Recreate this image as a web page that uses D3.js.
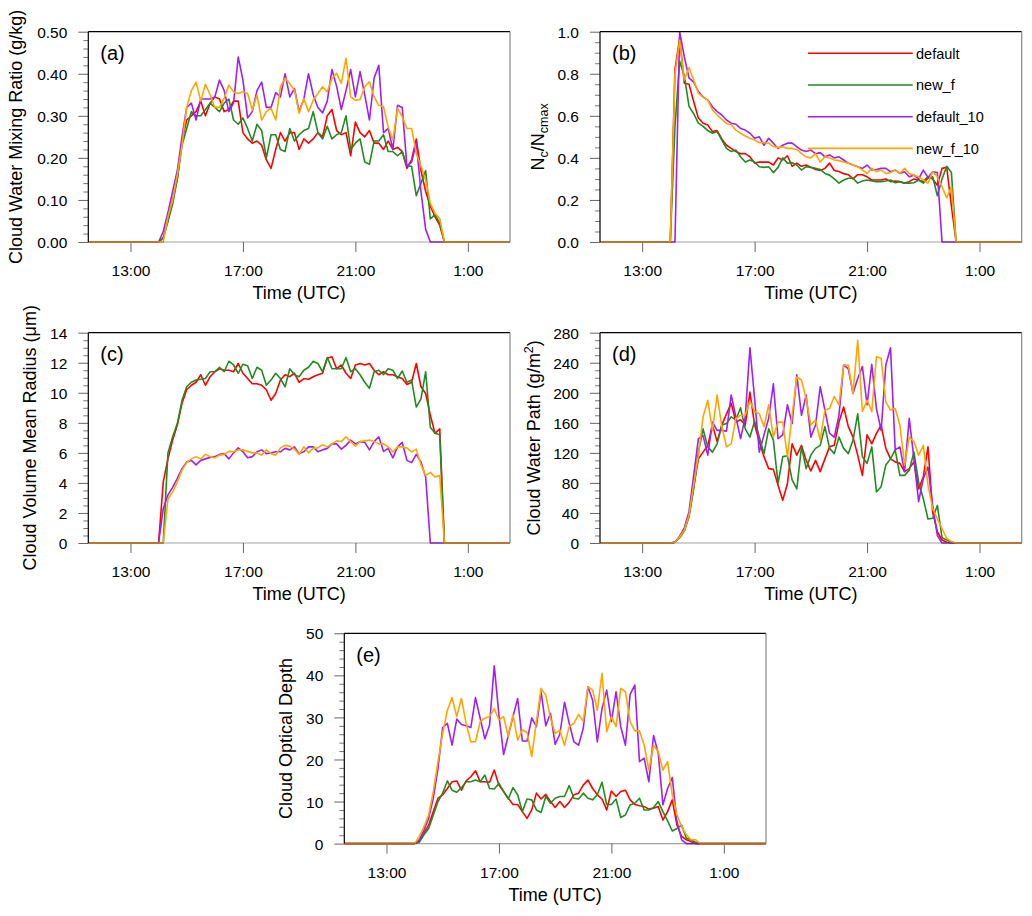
<!DOCTYPE html>
<html>
<head>
<meta charset="utf-8">
<script src="https://d3js.org/d3.v7.min.js"></script>
<style>
body { margin: 0; background: #fff; }
svg text { font-family: "Liberation Sans", Arial, Helvetica, sans-serif; fill: #000; }
</style>
</head>
<body>
<svg id="chart" width="1032" height="916"></svg>
<script>
// 10-minute samples, 11:30 UTC .. 02:30 UTC next day (hours, 24 = midnight)
const startHour = 11.5;
const stepHours = 1 / 6;
const timeTicks = [13, 17, 21, 25];
const timeTickLabels = ["13:00", "17:00", "21:00", "1:00"];

const seriesNames = ["default", "new_f", "default_10", "new_f_10"];
const seriesColors = ["#ff0000", "#228b22", "#a020f0", "#ffa500"];

// (a) cloud water mixing ratio, g/kg
const qcDefault = [0,0,0,0,0,0,0,0,0,0,0,0,0,0,0,
  0,0.01,0.05,0.10,0.15,0.24,0.29,0.30,0.31,0.335,
  0.30,0.33,0.345,0.34,0.31,0.315,0.335,0.335,0.26,0.245,
  0.235,0.24,0.23,0.195,0.175,0.22,0.26,0.24,0.26,0.26,
  0.22,0.245,0.235,0.245,0.26,0.25,0.30,0.315,0.265,0.255,
  0.26,0.205,0.285,0.26,0.25,0.265,0.235,0.235,0.22,0.24,
  0.22,0.225,0.215,0.175,0.195,0.245,0.17,0.12,0.085,0.06,
  0.04,0,
  0,0,0,0,0,0,0,0,0,0,0,0,0,0];
const qcNewF = [0,0,0,0,0,0,0,0,0,0,0,0,0,0,0,
  0,0.01,0.05,0.09,0.15,0.23,0.27,0.31,0.30,0.30,
  0.315,0.33,0.32,0.31,0.33,0.34,0.29,0.28,0.295,0.27,
  0.24,0.28,0.265,0.20,0.255,0.255,0.22,0.215,0.27,0.24,
  0.255,0.265,0.27,0.31,0.26,0.245,0.275,0.245,0.255,0.26,
  0.30,0.22,0.235,0.245,0.19,0.185,0.24,0.24,0.255,0.215,
  0.215,0.205,0.215,0.18,0.18,0.11,0.14,0.17,0.055,0.065,
  0.045,0,
  0,0,0,0,0,0,0,0,0,0,0,0,0,0];
const qcDefault10 = [0,0,0,0,0,0,0,0,0,0,0,0,0,0,0,
  0,0.025,0.07,0.12,0.17,0.25,0.32,0.33,0.29,0.34,
  0.34,0.34,0.345,0.385,0.36,0.31,0.33,0.44,0.385,0.295,
  0.31,0.36,0.38,0.32,0.32,0.355,0.345,0.40,0.345,0.365,
  0.31,0.34,0.40,0.35,0.32,0.307,0.335,0.41,0.37,0.315,
  0.36,0.41,0.345,0.405,0.35,0.29,0.39,0.42,0.26,0.27,
  0.22,0.325,0.32,0.18,0.19,0.235,0.12,0.03,0,0,
  0,0,
  0,0,0,0,0,0,0,0,0,0,0,0,0,0];
const qcNewF10 = [0,0,0,0,0,0,0,0,0,0,0,0,0,0,0,
  0,0,0.06,0.10,0.16,0.23,0.32,0.36,0.38,0.335,
  0.375,0.35,0.32,0.32,0.342,0.373,0.357,0.353,0.357,0.353,
  0.314,0.349,0.29,0.31,0.318,0.29,0.369,0.389,0.377,0.361,
  0.306,0.341,0.31,0.337,0.353,0.369,0.357,0.389,0.401,0.377,
  0.437,0.345,0.337,0.339,0.369,0.381,0.345,0.325,0.322,0.274,
  0.242,0.318,0.298,0.27,0.27,0.211,0.18,0.147,0.092,0.068,
  0.056,0,
  0,0,0,0,0,0,0,0,0,0,0,0,0,0];

// (b) normalised droplet number Nc/Ncmax
const ncDefault = [0,0,0,0,0,0,0,0,0,0,0,0,0,0,0,
  0,0.82,0.97,0.755,0.75,0.667,0.59,0.565,0.556,0.525,
  0.53,0.49,0.46,0.445,0.43,0.42,0.42,0.405,0.375,0.38,
  0.38,0.38,0.366,0.40,0.39,0.41,0.36,0.375,0.36,0.366,
  0.355,0.345,0.34,0.35,0.375,0.34,0.335,0.325,0.32,0.30,
  0.32,0.32,0.31,0.295,0.295,0.295,0.30,0.287,0.29,0.287,
  0.28,0.287,0.30,0.295,0.287,0.31,0.30,0.27,0.35,0.355,
  0.17,0,
  0,0,0,0,0,0,0,0,0,0,0,0,0,0];
const ncNewF = [0,0,0,0,0,0,0,0,0,0,0,0,0,0,0,
  0,0.55,0.86,0.79,0.645,0.61,0.565,0.55,0.53,0.517,
  0.525,0.485,0.445,0.43,0.437,0.405,0.38,0.39,0.38,0.358,
  0.355,0.358,0.33,0.355,0.40,0.375,0.377,0.366,0.342,0.358,
  0.355,0.35,0.345,0.326,0.318,0.30,0.28,0.295,0.303,0.303,
  0.28,0.29,0.295,0.29,0.287,0.287,0.29,0.295,0.282,0.287,
  0.28,0.28,0.282,0.295,0.28,0.303,0.31,0.22,0.30,0.36,
  0.33,0,
  0,0,0,0,0,0,0,0,0,0,0,0,0,0];
const ncDefault10 = [0,0,0,0,0,0,0,0,0,0,0,0,0,0,0,
  0,0,1.0,0.88,0.78,0.76,0.715,0.69,0.675,0.643,
  0.62,0.604,0.58,0.565,0.56,0.54,0.532,0.517,0.493,0.50,
  0.46,0.493,0.47,0.445,0.46,0.47,0.47,0.453,0.437,0.43,
  0.437,0.42,0.425,0.405,0.414,0.40,0.405,0.39,0.374,0.366,
  0.358,0.35,0.366,0.342,0.345,0.35,0.35,0.334,0.342,0.326,
  0.334,0.31,0.318,0.30,0.342,0.307,0.334,0.33,0,0,
  0,0,
  0,0,0,0,0,0,0,0,0,0,0,0,0,0];
const ncNewF10 = [0,0,0,0,0,0,0,0,0,0,0,0,0,0,0,
  0,0.80,0.96,0.77,0.83,0.77,0.707,0.69,0.675,0.628,
  0.604,0.583,0.564,0.556,0.532,0.517,0.504,0.493,0.485,0.472,
  0.472,0.47,0.453,0.45,0.453,0.445,0.445,0.44,0.42,0.405,
  0.40,0.42,0.38,0.405,0.40,0.39,0.387,0.38,0.374,0.366,
  0.358,0.342,0.326,0.35,0.334,0.342,0.326,0.33,0.342,0.326,
  0.35,0.326,0.318,0.31,0.295,0.28,0.334,0.31,0.263,0.21,
  0.263,0,
  0,0,0,0,0,0,0,0,0,0,0,0,0,0];

// (c) cloud volume mean radius, um
const rvDefault = [0,0,0,0,0,0,0,0,0,0,0,0,0,0,0,
  0,4.07,5.6,6.85,7.85,9.3,10.2,10.5,10.7,11.2,
  10.5,11.07,11.4,11.6,11.5,11.5,11.4,11.95,11.3,10.95,
  10.6,10.6,10.5,10.2,9.5,9.95,10.85,11.2,11.07,11.3,
  10.7,10.95,10.9,11.07,11.2,11.3,12.3,12.4,11.6,11.85,
  11.3,10.95,11.85,11.95,11.85,11.95,11.5,11.2,11.4,11.2,
  11.2,11.07,10.95,10.55,10.7,11.95,10.4,9.95,8.5,7.3,
  7.6,0,
  0,0,0,0,0,0,0,0,0,0,0,0,0,0];
const rvNewF = [0,0,0,0,0,0,0,0,0,0,0,0,0,0,0,
  0,0,6.0,7.07,7.95,9.5,10.4,10.7,10.85,10.9,
  10.95,11.4,11.4,11.7,11.4,12.1,11.85,11.3,11.9,11.8,
  10.95,11.7,11.5,10.5,10.85,11.3,10.95,10.4,11.6,11.2,
  11.07,11.5,11.7,12.1,11.95,11.4,12.35,11.6,11.6,11.6,
  12.35,11.4,11.6,11.2,10.7,10.3,11.4,11.5,11.2,11.6,
  11.5,10.95,11.45,10.7,10.85,9.05,9.6,11.4,7.7,7.3,
  7.2,0,
  0,0,0,0,0,0,0,0,0,0,0,0,0,0];
const rvDefault10 = [0,0,0,0,0,0,0,0,0,0,0,0,0,0,0,
  0,2.3,3.2,3.7,4.3,4.95,5.4,5.5,5.2,5.5,
  5.6,5.7,5.75,5.9,5.95,5.6,6.0,6.33,6.07,5.67,
  5.75,6.07,6.2,5.95,6.0,6.07,6.07,6.3,6.2,6.4,
  5.95,6.07,6.4,6.4,6.07,6.2,6.3,6.6,6.6,6.25,
  6.5,6.85,6.6,6.75,6.7,6.2,6.75,7.07,6.1,6.3,
  5.67,6.4,6.7,5.5,5.35,5.9,5.4,4.4,0,0,
  0,0,
  0,0,0,0,0,0,0,0,0,0,0,0,0,0];
const rvNewF10 = [0,0,0,0,0,0,0,0,0,0,0,0,0,0,0,
  0,0,2.95,3.4,4.07,4.85,5.35,5.6,5.75,5.6,
  5.9,5.75,5.67,5.85,5.9,6.1,6.07,6.2,6.2,6.1,
  6.0,6.0,5.85,6.2,5.95,5.85,6.33,6.5,6.45,6.25,
  5.9,6.4,6.0,6.3,6.33,6.55,6.4,6.6,6.8,6.75,
  7.07,6.75,6.45,6.75,6.8,6.85,6.75,6.6,6.6,6.4,
  6.07,6.4,6.4,6.33,6.07,6.25,5.2,4.5,4.7,4.4,
  4.5,0,
  0,0,0,0,0,0,0,0,0,0,0,0,0,0];

// (d) cloud water path, g/m2
const lwpDefault = [0,0,0,0,0,0,0,0,0,0,0,0,0,0,0,
  0,1,8,17,37,75,112,121,130,157,
  135,157,172,186,161,164,157,201,157,135,
  115,99,98,77,57,79,132,117,130,110,
  96,110,95,112,128,130,161,181,155,141,
  117,90,144,132,146,157,126,112,108,106,
  95,99,108,72,88,128,41,15,4,1,
  0,0,
  0,0,0,0,0,0,0,0,0,0,0,0,0,0];
const lwpNewF = [0,0,0,0,0,0,0,0,0,0,0,0,0,0,0,
  0,1,7,16,35,72,121,152,128,121,
  132,157,159,168,164,180,152,141,162,141,
  119,152,137,79,115,116,84,72,128,99,
  117,126,130,155,126,119,141,126,119,137,
  172,115,106,128,68,75,104,112,124,90,
  90,97,121,81,59,32,33,50,7,4,
  1,0,
  0,0,0,0,0,0,0,0,0,0,0,0,0,0];
const lwpDefault10 = [0,0,0,0,0,0,0,0,0,0,0,0,0,0,0,
  0,1,9,20,42,90,139,143,117,161,
  150,150,149,197,168,139,168,260,192,121,
  144,166,212,139,144,184,159,224,170,197,
  141,157,208,177,146,141,170,237,232,199,
  219,235,184,238,179,150,237,260,124,128,
  95,166,112,55,86,101,50,10,0,0,
  0,0,
  0,0,0,0,0,0,0,0,0,0,0,0,0,0];
const lwpNewF10 = [0,0,0,0,0,0,0,0,0,0,0,0,0,0,0,
  0,1,8,17,37,78,117,168,190,150,
  197,155,128,132,166,170,170,189,175,172,
  155,184,141,161,161,115,170,221,217,192,
  157,164,137,177,179,195,184,237,237,199,
  270,175,190,175,248,246,188,177,179,157,
  104,141,135,117,130,77,46,32,19,6,
  2,0,
  0,0,0,0,0,0,0,0,0,0,0,0,0,0];

// (e) cloud optical depth
const codDefault = [0,0,0,0,0,0,0,0,0,0,0,0,0,0,0,
  0,0.5,2.5,4.4,7.6,10.8,11.6,13.1,14.7,14.9,
  12.7,14.9,15.9,17.3,14.7,14.7,14.6,17.5,13.9,12.4,
  10.8,9.3,9.3,7.6,6.0,8.0,12.0,10.6,11.7,10.0,
  8.6,10.0,8.6,9.8,11.6,12.0,13.9,15.1,13.1,11.6,
  10.6,8.0,12.5,11.2,12.4,12.7,10.4,9.3,9.0,8.8,
  8.2,8.4,8.8,5.6,7.6,10.4,4.4,1.7,0.9,0.5,
  0,0,
  0,0,0,0,0,0,0,0,0,0,0,0,0,0];
const codNewF = [0,0,0,0,0,0,0,0,0,0,0,0,0,0,0,
  0,0.3,2.1,3.6,6.8,10.0,12.0,14.9,12.7,12.2,
  13.3,14.7,14.7,15.1,14.7,16.3,13.1,13.0,14.3,12.4,
  10.6,13.3,11.6,7.6,10.6,10.4,8.0,7.4,11.2,9.6,
  10.8,11.2,11.2,13.8,10.8,10.6,12.0,10.8,10.4,11.6,
  14.6,9.3,9.3,10.6,6.2,6.8,9.2,9.6,10.8,8.0,
  8.0,8.6,10.0,7.6,5.4,3.0,3.6,4.4,1.3,0.9,
  0.3,0,
  0,0,0,0,0,0,0,0,0,0,0,0,0,0];
const codDefault10 = [0,0,0,0,0,0,0,0,0,0,0,0,0,0,0,
  0,0.9,3.2,6.0,10.8,17.9,27.6,28.6,23.4,29.6,
  28.3,28.0,27.6,34.7,29.8,24.9,28.2,42.3,30.6,21.2,
  25.7,30.2,34.5,24.4,24.4,29.9,27.8,36.1,28.0,31.0,
  23.6,26.0,33.6,28.6,24.2,23.4,27.4,37.3,34.1,24.2,
  32.1,36.5,29.0,36.1,27.8,23.4,35.5,37.7,19.5,20.3,
  14.7,25.7,21.5,9.2,13.1,15.7,5.2,0.9,0,0,
  0,0,
  0,0,0,0,0,0,0,0,0,0,0,0,0,0];
const codNewF10 = [0,0,0,0,0,0,0,0,0,0,0,0,0,0,0,
  0,1.7,4.0,6.8,12.4,19.5,26.2,31.7,34.7,30.2,
  34.5,28.6,24.2,24.2,29.0,29.8,30.2,32.1,29.4,30.2,
  25.4,30.6,24.6,27.0,26.4,20.7,29.0,36.9,35.3,29.9,
  26.2,27.0,23.4,27.8,28.6,30.7,29.1,37.3,36.5,31.7,
  40.5,26.6,30.2,27.8,36.9,36.1,29.0,26.8,26.8,23.4,
  17.5,23.4,21.9,17.5,19.5,11.6,6.8,4.0,2.1,0.9,
  0.9,0,
  0,0,0,0,0,0,0,0,0,0,0,0,0,0];

// y tick labels per panel
const qcTicks = [0, 0.1, 0.2, 0.3, 0.4, 0.5];
const ncTicks = [0, 0.2, 0.4, 0.6, 0.8, 1.0];
const rvTicks = [0, 2, 4, 6, 8, 10, 12, 14];
const lwpTicks = [0, 40, 80, 120, 160, 200, 240, 280];
const codTicks = [0, 10, 20, 30, 40, 50];

const panels = [
  { tag: "(a)", left: 88.3, top: 31.7, series: [qcDefault, qcNewF, qcDefault10, qcNewF10],
    ticks: qcTicks, minor: 0.02, fmt: d => d.toFixed(2), labelX: 21.5,
    label: [{ t: "Cloud Water Mixing Ratio (g/kg)" }] },
  { tag: "(b)", left: 600, top: 31.7, series: [ncDefault, ncNewF, ncDefault10, ncNewF10],
    ticks: ncTicks, minor: 0.05, fmt: d => d.toFixed(1), labelX: 543.5, legend: true,
    label: [{ t: "N" }, { t: "c", sub: true }, { t: "/N" }, { t: "cmax", sub: true }] },
  { tag: "(c)", left: 88.3, top: 332.7, series: [rvDefault, rvNewF, rvDefault10, rvNewF10],
    ticks: rvTicks, minor: 0.5, fmt: d => d, labelX: 36,
    label: [{ t: "Cloud Volume Mean Radius (\u03bcm)" }] },
  { tag: "(d)", left: 600, top: 332.7, series: [lwpDefault, lwpNewF, lwpDefault10, lwpNewF10],
    ticks: lwpTicks, minor: 10, fmt: d => d, labelX: 540,
    label: [{ t: "Cloud Water Path (g/m" }, { t: "2", sup: true }, { t: ")" }] },
  { tag: "(e)", left: 344.3, top: 633.3, series: [codDefault, codNewF, codDefault10, codNewF10],
    ticks: codTicks, minor: 2, fmt: d => d, labelX: 291.5,
    label: [{ t: "Cloud Optical Depth" }] }
];

const W = 421.7, H = 210.3;
const FONT = "'Liberation Sans', Arial, Helvetica, sans-serif";
const svg = d3.select("#chart");

const x = d3.scaleLinear().domain([startHour, 26.5]).range([0, W]);

panels.forEach(p => {
  const yMax = p.ticks[p.ticks.length - 1];
  const y = d3.scaleLinear().domain([0, yMax]).range([H, 0]);
  const g = svg.append("g").attr("transform", `translate(${p.left},${p.top})`);

  // minor y ticks
  const minorVals = d3.range(0, yMax + p.minor / 2, p.minor)
    .filter(v => !p.ticks.some(t => Math.abs(t - v) < p.minor / 4));
  g.append("g")
    .call(d3.axisLeft(y).tickValues(minorVals).tickSize(5).tickFormat(""))
    .call(a => a.select(".domain").remove())
    .call(a => a.selectAll("line").attr("stroke", "#777"));

  // major y ticks
  g.append("g")
    .call(d3.axisLeft(y).tickValues(p.ticks).tickSize(10).tickPadding(11).tickFormat(p.fmt))
    .attr("font-family", FONT).attr("font-size", 15.5)
    .call(a => a.select(".domain").remove())
    .call(a => a.selectAll("line").attr("stroke", "#666"))
    .call(a => a.selectAll("text").attr("fill", "#000").attr("dy", "0.36em"));

  // x ticks
  g.append("g")
    .attr("transform", `translate(0,${H})`)
    .call(d3.axisBottom(x).tickValues(timeTicks).tickSize(10)
      .tickFormat((d, i) => timeTickLabels[i]))
    .attr("font-family", FONT).attr("font-size", 15.5)
    .call(a => a.select(".domain").remove())
    .call(a => a.selectAll("line").attr("stroke", "#666"))
    .call(a => a.selectAll("text").attr("fill", "#000").attr("y", 34).attr("dy", 0));

  // series lines
  const line = d3.line()
    .x((d, k) => x(startHour + k * stepHours))
    .y(d => y(d));
  p.series.forEach((vals, s) => {
    g.append("path")
      .datum(vals)
      .attr("d", line)
      .attr("fill", "none")
      .attr("stroke", seriesColors[s])
      .attr("stroke-width", 1.6)
      .attr("stroke-linejoin", "round");
  });

  // frame
  g.append("line").attr("x1", 0).attr("x2", W).attr("y1", 0).attr("y2", 0)
    .attr("stroke", "#000").attr("stroke-width", 1.2);
  g.append("line").attr("x1", 0).attr("x2", 0).attr("y1", 0).attr("y2", H)
    .attr("stroke", "#000").attr("stroke-width", 1.2);
  g.append("line").attr("x1", W).attr("x2", W).attr("y1", 0).attr("y2", H)
    .attr("stroke", "#888").attr("stroke-width", 1.2);
  g.append("line").attr("x1", 0).attr("x2", W).attr("y1", H).attr("y2", H)
    .attr("stroke", "#333").attr("stroke-width", 1.2).attr("stroke-opacity", 0.45);

  // panel tag
  g.append("text").attr("x", 12).attr("y", 28.5)
    .attr("font-size", 20).text(p.tag);

  // x title
  g.append("text").attr("x", W / 2).attr("y", H + 57)
    .attr("text-anchor", "middle").attr("font-size", 18).text("Time (UTC)");

  // y title
  const yt = svg.append("text")
    .attr("transform", `translate(${p.labelX},${p.top + H / 2}) rotate(-90)`)
    .attr("text-anchor", "middle").attr("font-size", 18);
  let shift = 0;
  p.label.forEach(seg => {
    const ts = yt.append("tspan").text(seg.t);
    let target = 0;
    if (seg.sub) { ts.attr("font-size", 12.5); target = 4; }
    if (seg.sup) { ts.attr("font-size", 12.5); target = -7; }
    ts.attr("dy", target - shift);
    shift = target;
  });

  // legend
  if (p.legend) {
    seriesNames.forEach((name, s) => {
      const ly = 21.6 + s * 31.7;
      g.append("line").attr("x1", 208).attr("x2", 312.7).attr("y1", ly).attr("y2", ly)
        .attr("stroke", seriesColors[s]).attr("stroke-width", 1.6);
      g.append("text").attr("x", 316).attr("y", ly).attr("dy", "0.36em")
        .attr("font-size", 14.5).text(name);
    });
  }
});
</script>
</body>
</html>
